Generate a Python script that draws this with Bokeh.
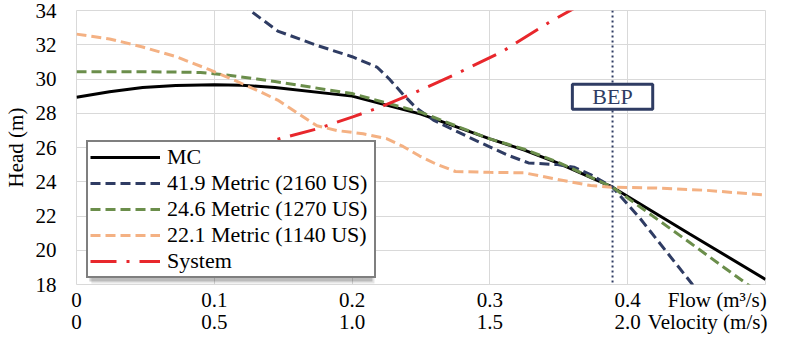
from bokeh.plotting import figure
from bokeh.models import (Range1d, FixedTicker, LinearAxis, Legend, LegendItem,
                          Label, Span, BoxAnnotation)
from bokeh.embed import file_html
from bokeh.resources import INLINE

# ---------------- data ----------------
mc_flow = [0, 0.024, 0.048, 0.072, 0.1, 0.12, 0.144, 0.2, 0.25, 0.3, 0.325, 0.35,
           0.389, 0.445, 0.5]
mc_head = [28.93, 29.25, 29.5, 29.62, 29.67, 29.64, 29.5, 29.0, 27.95, 26.5, 25.85, 25.07,
           23.68, 20.95, 18.3]

m419_flow = [0.12, 0.126, 0.146, 0.175, 0.2, 0.218, 0.227, 0.237, 0.246, 0.259,
             0.273, 0.29, 0.313, 0.328, 0.349, 0.361, 0.373, 0.389, 0.409, 0.447, 0.46]
m419_head = [34.5, 34.0, 32.8, 31.95, 31.3, 30.7, 30.0, 29.1, 28.35, 27.6,
             27.05, 26.4, 25.55, 25.1, 25.0, 24.85, 24.42, 23.68, 21.86, 18.0, 16.7]

m246_flow = [0, 0.05, 0.09, 0.108, 0.131, 0.144, 0.2, 0.25, 0.3, 0.325, 0.35, 0.389,
             0.445, 0.487, 0.5]
m246_head = [30.43, 30.43, 30.38, 30.24, 30.0, 29.85, 29.15, 28.05, 26.5, 25.9, 25.12, 23.68,
             20.45, 18.0, 17.25]

m221_flow = [0, 0.024, 0.048, 0.072, 0.096, 0.1125, 0.131, 0.146, 0.16, 0.1745, 0.189,
             0.208, 0.225, 0.237, 0.249, 0.261, 0.275, 0.3, 0.325, 0.349, 0.373, 0.389,
             0.421, 0.457, 0.5]
m221_head = [32.62, 32.34, 31.87, 31.31, 30.56, 30.0, 29.34, 28.77, 28.02, 27.27, 26.99,
             26.8, 26.52, 26.06, 25.5, 25.03, 24.6, 24.55, 24.52, 24.14, 23.78, 23.68,
             23.63, 23.5, 23.22]

sys_flow = [0.05, 0.1, 0.124, 0.146, 0.175, 0.201, 0.22, 0.241, 0.273, 0.309, 0.342, 0.365]
sys_head = [25.2, 25.7, 26.05, 26.48, 27.1, 27.8, 28.35, 29.05, 30.2, 31.6, 33.26, 34.3]

series_names = ["MC", "41.9 Metric (2160 US)", "24.6 Metric (1270 US)",
                "22.1 Metric (1140 US)", "System"]

bep_flow = 0.389
bep_label_head = 28.97

flow_ticks = [0, 0.1, 0.2, 0.3, 0.4]
flow_labels = ["0", "0.1", "0.2", "0.3", "0.4"]
velocity_labels = ["0", "0.5", "1.0", "1.5", "2.0"]
flow_title = "Flow (m³/s)"
velocity_title = "Velocity (m/s)"
flow_title_pos = 0.465
velocity_title_pos = 0.458
grid_x = [0, 0.1, 0.2, 0.3, 0.4, 0.5]
head_ticks = [18, 20, 22, 24, 26, 28, 30, 32, 34]

# ---------------- styling ----------------
FONT = "Liberation Serif"
NAVY = "#2F3C63"
GREEN = "#6B8E4B"
ORANGE = "#F4B183"
RED = "#E8272C"
GRID = "#D9D9D9"

W, H = 769, 338
B_LEFT, B_RIGHT, B_TOP, B_BOTTOM = 69, 4, 10, 54
FW = W - B_LEFT - B_RIGHT
FH = H - B_TOP - B_BOTTOM
X0, X1, Y0, Y1 = 0, 0.5, 18, 34

p = figure(width=W, height=H, output_backend="svg", toolbar_location=None,
           x_range=Range1d(X0, X1), y_range=Range1d(Y0, Y1),
           min_border_left=B_LEFT, min_border_right=B_RIGHT,
           min_border_top=B_TOP, min_border_bottom=B_BOTTOM)
p.outline_line_color = GRID
p.background_fill_color = "white"

# grids
p.xgrid.ticker = FixedTicker(ticks=grid_x)
p.ygrid.ticker = FixedTicker(ticks=head_ticks)
for g in (p.xgrid, p.ygrid):
    g.grid_line_color = GRID
    g.grid_line_width = 1

# y axis
ya = p.yaxis[0]
ya.ticker = FixedTicker(ticks=head_ticks)
ya.axis_label = "Head (m)"
ya.axis_label_text_font = FONT
ya.axis_label_text_font_size = "21px"
ya.axis_label_text_font_style = "normal"
ya.axis_label_text_color = "black"
ya.axis_label_text_line_height = 1.0
ya.axis_label_standoff = 5
ya.major_label_standoff = 20

# flow axis
xa = p.xaxis[0]
xa.ticker = FixedTicker(ticks=flow_ticks + [flow_title_pos])
xa.major_label_overrides = {**{t: l for t, l in zip(flow_ticks, flow_labels)},
                            flow_title_pos: flow_title}
xa.major_label_standoff = 3

# velocity axis
va = LinearAxis(ticker=FixedTicker(ticks=flow_ticks + [velocity_title_pos]),
                major_label_overrides={**{t: l for t, l in zip(flow_ticks, velocity_labels)},
                                       velocity_title_pos: velocity_title})
va.major_label_standoff = -5
p.add_layout(va, "below")

for ax in (xa, va, ya):
    ax.axis_line_color = None
    ax.major_tick_line_color = None
    ax.minor_tick_line_color = None
    ax.major_tick_out = 0
    ax.major_tick_in = 0
    ax.minor_tick_out = 0
    ax.minor_tick_in = 0
    ax.major_label_text_font = FONT
    ax.major_label_text_font_size = "21px"
    ax.major_label_text_color = "black"
    ax.major_label_text_line_height = 1.0

# BEP line
p.add_layout(Span(location=bep_flow, dimension="height", line_color=NAVY,
                  line_width=2, line_dash="2 3"))

# curves
r_mc = p.line(mc_flow, mc_head, line_color="black", line_width=3)
r_419 = p.line(m419_flow, m419_head, line_color=NAVY, line_width=3, line_dash="10 5")
r_246 = p.line(m246_flow, m246_head, line_color=GREEN, line_width=3, line_dash="10 5")
r_221 = p.line(m221_flow, m221_head, line_color=ORANGE, line_width=3, line_dash="10 5")
r_sys = p.line(sys_flow, sys_head, line_color=RED, line_width=3, line_dash="26 10 3 10")
renderers = [r_mc, r_419, r_246, r_221, r_sys]

# BEP label with shadow
pad = dict(left=20, right=20, top=0, bottom=0)
p.add_layout(Label(x=bep_flow, y=bep_label_head, text="BEP", text_align="center",
                   text_baseline="middle", text_font=FONT, text_font_size="22px",
                   text_alpha=0, x_offset=4, y_offset=-4, padding=pad,
                   background_fill_color="black", background_fill_alpha=0.22,
                   border_line_color=None))
p.add_layout(Label(x=bep_flow, y=bep_label_head, text="BEP", text_align="center",
                   text_baseline="middle", text_font=FONT, text_font_size="22px",
                   text_color=NAVY, padding=pad,
                   background_fill_color="white", background_fill_alpha=1,
                   border_line_color=NAVY, border_line_width=3))

# legend shadow (legend box: 286 x 134 px at 10,6 px from frame bottom-left)
def px_x(v):
    return X0 + v / FW * (X1 - X0)

def px_y(v):
    return Y0 + v / FH * (Y1 - Y0)

LEG_L, LEG_B, LEG_W, LEG_H = 10, 6, 286, 134
for off, a in ((5, 0.10), (3, 0.18)):
    p.add_layout(BoxAnnotation(left=px_x(LEG_L + off), right=px_x(LEG_L + LEG_W + off),
                               bottom=px_y(LEG_B - off), top=px_y(LEG_B + LEG_H - off),
                               fill_color="black", fill_alpha=a, line_color=None))

legend = Legend(items=[LegendItem(label=n, renderers=[r]) for n, r in zip(series_names, renderers)],
                location=(LEG_L, LEG_B), padding=2, spacing=0, margin=0,
                glyph_width=70, glyph_height=26, label_height=26, label_width=205,
                label_standoff=7, label_text_font=FONT, label_text_font_size="22px",
                label_text_color="black",
                border_line_color="black", border_line_width=2,
                background_fill_color="white", background_fill_alpha=1)
p.add_layout(legend, "center")

open("out.html", "w").write(file_html(p, INLINE))
